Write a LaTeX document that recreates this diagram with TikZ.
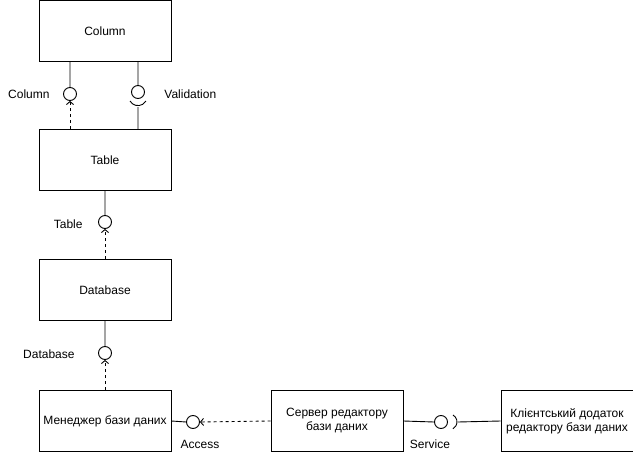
\documentclass[tikz,border=0pt]{standalone}
\usepackage{fontspec}
\setmainfont{Liberation Sans}
\usetikzlibrary{arrows.meta}
\begin{document}
\begin{tikzpicture}[x=1pt,y=-1pt,line width=0.9pt,font=\fontsize{12}{14}\selectfont,
	comp/.style={draw,minimum width=132pt,minimum height=61pt,align=center,inner sep=1pt},
	iface/.style={draw,circle,minimum size=13pt,inner sep=0pt},
	dep/.style={dash pattern=on 3pt off 3pt,-{Straight Barb[length=3pt,width=7pt]}}]
	\useasboundingbox (0,0) rectangle (633,461);
	\foreach \n/\x/\y/\t in {col/105/31/Column,tab/105/160/Table,db/105/290/Database,
		man/105/421/Менеджер бази даних,srv/337/421/{Сервер редактору\\бази даних},
		cli/567/421/{Клієнтський додаток\\редактору бази даних}}
	\node[comp] (\n) at (\x,\y) {\t};
	\foreach \n/\x/\y in {icol/70/94,ival/138/92,itab/105/222,idb/105/353,iacc/193/422,isrv/441/422}
	\node[iface] (\n) at (\x,\y) {};
	\path (138,107) coordinate (sval) (458,422) coordinate (ssrv);
	\draw (col.south -| icol) -- (icol.north) (col.south -| ival) -- (ival.north)
		(tab.south) -- (itab.north) (db.south) -- (idb.north)
		(man.east) -- (iacc.west) (srv.east) -- (isrv.west) (ssrv) -- (cli.west)
		(sval) -- (sval |- tab.north);
	\draw (sval) ++(-8,-6) arc[start angle=150,end angle=30,radius=9.2];
	\draw (ssrv) ++(-5,-7) arc[start angle=-60,end angle=60,radius=8];
	\draw[dep] (tab.north -| icol) -- (icol.south);
	\draw[dep] (db.north) -- (itab.south);
	\draw[dep] (man.north) -- (idb.south);
	\draw[dep] (srv.west) -- (iacc.east);
	\foreach \n/\x/\y/\a/\t in {lcol/50/94/east/Column,lval/164/94/west/Validation,
		ltab/83/224/east/Table,ldb/75/354/east/Database,lacc/200/444/center/Access,lsrv/430/444/center/Service}
	\node[anchor=\a,inner sep=0pt] (\n) at (\x,\y) {\t};
\end{tikzpicture}
\end{document}
